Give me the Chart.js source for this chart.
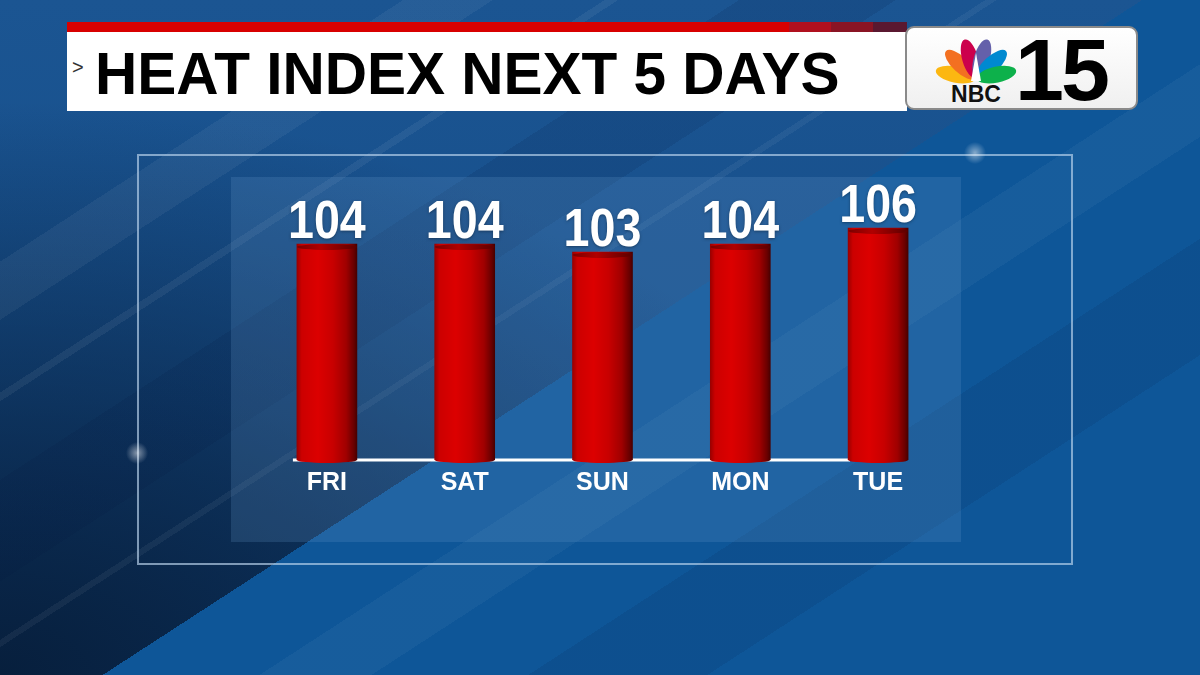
<!DOCTYPE html>
<html>
<head>
<meta charset="utf-8">
<title>Heat Index Next 5 Days</title>
<script src="https://cdn.jsdelivr.net/npm/chart.js@4.4.0/dist/chart.umd.min.js"></script>
<style>
  body {
    margin: 0; width: 1200px; height: 675px; overflow: hidden; position: relative;
    font-family: 'Liberation Sans', Arial, sans-serif;
    background:
      linear-gradient(147deg, transparent 0 18%, rgba(255,255,255,0.05) 18% 22%, transparent 22% 27%,
        rgba(255,255,255,0.06) 27% 27.6%, transparent 27.6% 33%, rgba(0,20,60,0.12) 33% 40%, transparent 40% 44%,
        rgba(255,255,255,0.05) 44% 44.5%, transparent 44.5% 58%, rgba(255,255,255,0.04) 58% 63%, transparent 63% 70%,
        rgba(0,20,60,0.10) 70% 78%, transparent 78%),
      linear-gradient(147deg, transparent 0 51%, #0e5698 51% 100%),
      radial-gradient(ellipse 75% 85% at 0% 100%, #071f3d 0%, rgba(7,31,61,0.6) 45%, rgba(7,31,61,0) 100%),
      linear-gradient(180deg, #1b5592 0%, #164e8a 60%, #113f73 100%);
  }
  .strip { position: absolute; left: 67px; top: 22px; width: 840px; height: 10px;
    background: linear-gradient(90deg, #d80000 0 86%, #b0101e 86% 91%, #8a1424 91% 96%, #5a1830 96%); }
  .titlebox { position: absolute; left: 67px; top: 32px; width: 840px; height: 79px; background: #fff; }
  .chev { position: absolute; left: 72px; top: 56px; font-size: 20px; color: #333; }
  .title { position: absolute; left: 95px; top: 40px; font-family: 'Liberation Sans Narrow', 'Liberation Sans', sans-serif;
    font-weight: bold; font-size: 60px; line-height: 68px; color: #000; white-space: nowrap; transform-origin: 0 0; }
  .logo { position: absolute; left: 905px; top: 26px; width: 229px; height: 80px; background: linear-gradient(180deg,#fff,#f0f0f0);
    border: 2px solid #8a8a8a; border-radius: 9px; }
  .frame { position: absolute; left: 137px; top: 154px; width: 932px; height: 407px; border: 2px solid rgba(190,215,240,0.65); }
  .panel { position: absolute; left: 231px; top: 177px; width: 730px; height: 365px; background: rgba(110,160,210,0.2); }
  .glow { position: absolute; width: 24px; height: 24px; border-radius: 50%;
    background: radial-gradient(circle, rgba(255,255,255,0.5) 0%, rgba(255,255,255,0) 65%); }
  #wrap { position: absolute; left: 231px; top: 177px; width: 730px; height: 365px; }
</style>
</head>
<body>
  <div class="strip"></div>
  <div class="titlebox"></div>
  <div class="chev">&gt;</div>
  <div class="title" id="title">HEAT INDEX NEXT 5 DAYS</div>
  <div class="logo">
    <svg width="229" height="80" viewBox="0 0 229 80">
      <g transform="translate(69,51)">
        <ellipse cx="0" cy="-21" rx="8" ry="20" fill="#fcb711" transform="rotate(-78)"/>
        <ellipse cx="0" cy="-21" rx="8" ry="20" fill="#f37021" transform="rotate(-47)"/>
        <ellipse cx="0" cy="-21" rx="8" ry="20" fill="#cc004c" transform="rotate(-16)"/>
        <ellipse cx="0" cy="-21" rx="8" ry="20" fill="#6460aa" transform="rotate(16)"/>
        <ellipse cx="0" cy="-21" rx="8" ry="20" fill="#0089d0" transform="rotate(47)"/>
        <ellipse cx="0" cy="-21" rx="8" ry="20" fill="#0db14b" transform="rotate(78)"/>
        <path d="M-5,2 L0,-26 L5,2 Z" fill="#fff"/>
      </g>
      <text x="69" y="74" text-anchor="middle" font-family="Liberation Sans, Arial" font-weight="bold" font-size="23" fill="#111">NBC</text>
      <text x="108" y="72" font-family="Liberation Sans, Arial" font-weight="bold" font-size="88" fill="#000" letter-spacing="-3">15</text>
    </svg>
  </div>
  <div class="frame"></div>
  <div class="panel"></div>
  <div class="glow" style="left:125px; top:441px;"></div>
  <div class="glow" style="left:963px; top:141px;"></div>
  <div id="wrap"><canvas id="chart" width="730" height="365"></canvas></div>

<script>
  var days = ["FRI", "SAT", "SUN", "MON", "TUE"];
  var heatIndex = [104, 104, 103, 104, 106];
  var yMin = 77;
  var yMax = 111;

  // squeeze the title into the white bar
  var t = document.getElementById("title");
  t.style.transform = "scaleX(" + (745 / t.scrollWidth) + ")";

  function barFill(ctx) {
    var chart = ctx.chart;
    var x = chart.scales.x;
    if (!chart.chartArea || !x) return "#c00000";
    var cx = x.getPixelForValue(ctx.dataIndex);
    var g = chart.ctx.createLinearGradient(cx - 30, 0, cx + 30, 0);
    g.addColorStop(0, "#9a0000");
    g.addColorStop(0.08, "#cc0000");
    g.addColorStop(0.35, "#dc0000");
    g.addColorStop(0.6, "#c80000");
    g.addColorStop(0.82, "#a00000");
    g.addColorStop(0.95, "#680000");
    g.addColorStop(1, "#480000");
    return g;
  }

  var baseline = {
    id: "baseline",
    beforeDatasetsDraw: function(chart) {
      var c = chart.ctx, x = chart.scales.x, y = chart.scales.y;
      var yy = y.getPixelForValue(yMin);
      c.save();
      c.strokeStyle = "#ffffff";
      c.lineWidth = 3;
      c.beginPath();
      c.moveTo(x.getPixelForValue(0) - 34, yy);
      c.lineTo(x.getPixelForValue(days.length - 1) - 28, yy);
      c.stroke();
      c.restore();
    }
  };

  var cylinders = {
    id: "cylinders",
    afterDatasetsDraw: function(chart) {
      var c = chart.ctx;
      chart.getDatasetMeta(0).data.forEach(function(bar, i) {
        var w = bar.width / 2;
        var fill = barFill({ chart: chart, dataIndex: i });
        c.save();
        // rounded bottom
        c.fillStyle = fill;
        c.beginPath();
        c.ellipse(bar.x, bar.base, w, 3, 0, 0, Math.PI);
        c.fill();
        // top cap
        var g = c.createLinearGradient(bar.x - w, 0, bar.x + w, 0);
        g.addColorStop(0, "#7a0000");
        g.addColorStop(0.4, "#b00000");
        g.addColorStop(1, "#5a0000");
        c.fillStyle = g;
        c.beginPath();
        c.ellipse(bar.x, bar.y + 3, w, 3, 0, 0, Math.PI * 2);
        c.fill();
        // value, condensed a little
        c.translate(bar.x, bar.y - 6);
        c.scale(0.88, 1);
        c.fillStyle = "#ffffff";
        c.font = "bold 53px 'Liberation Sans', sans-serif";
        c.textAlign = "center";
        c.textBaseline = "alphabetic";
        c.shadowColor = "rgba(0,0,0,0.35)";
        c.shadowBlur = 3;
        c.shadowOffsetY = 1;
        c.fillText(String(heatIndex[i]), 0, 0);
        c.restore();
      });
    }
  };

  new Chart(document.getElementById("chart").getContext("2d"), {
    type: "bar",
    data: {
      labels: days,
      datasets: [{
        data: heatIndex,
        backgroundColor: barFill,
        borderWidth: 0,
        barThickness: 60,
        base: yMin
      }]
    },
    options: {
      responsive: false,
      animation: false,
      layout: { padding: { top: 11, left: 27, right: 14, bottom: 36 } },
      plugins: { legend: { display: false }, tooltip: { enabled: false } },
      scales: {
        y: { display: false, min: yMin, max: yMax },
        x: {
          grid: { display: false, drawTicks: false },
          border: { display: false },
          ticks: {
            color: "#ffffff",
            padding: 8,
            font: { family: "'Liberation Sans', sans-serif", weight: "bold", size: 25 }
          }
        }
      }
    },
    plugins: [baseline, cylinders]
  });
</script>
</body>
</html>
